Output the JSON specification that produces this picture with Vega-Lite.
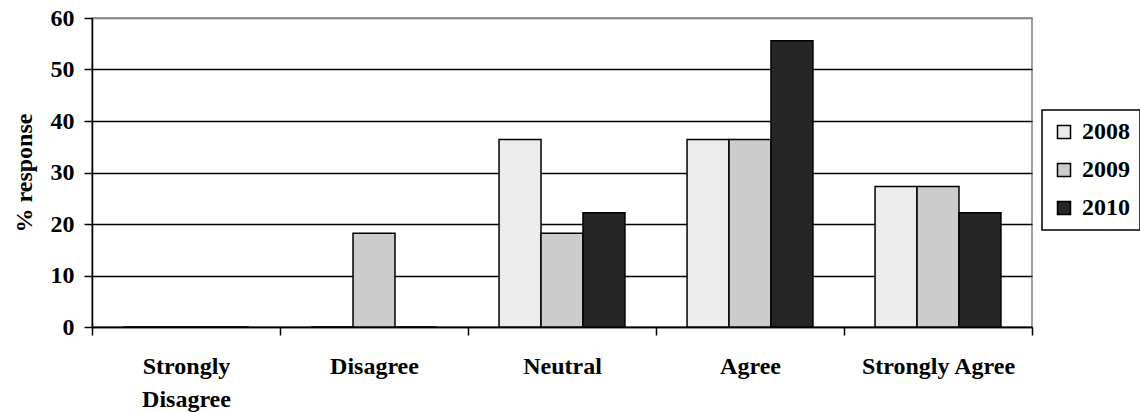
{
  "$schema": "https://vega.github.io/schema/vega-lite/v6.json",
  "width": 940,
  "height": 309,
  "autosize": {"type": "none"},
  "padding": {"left": 92, "top": 18, "right": 108, "bottom": 85},
  "background": "white",
  "config": {
    "font": "Liberation Serif",
    "view": {"stroke": "#808080", "strokeWidth": 1.5}
  },
  "data": {
    "values": [
      {"response": "Strongly Disagree", "year": "2008", "pct": 0},
      {"response": "Strongly Disagree", "year": "2009", "pct": 0},
      {"response": "Strongly Disagree", "year": "2010", "pct": 0},
      {"response": "Disagree", "year": "2008", "pct": 0},
      {"response": "Disagree", "year": "2009", "pct": 18.2},
      {"response": "Disagree", "year": "2010", "pct": 0},
      {"response": "Neutral", "year": "2008", "pct": 36.4},
      {"response": "Neutral", "year": "2009", "pct": 18.2},
      {"response": "Neutral", "year": "2010", "pct": 22.2},
      {"response": "Agree", "year": "2008", "pct": 36.4},
      {"response": "Agree", "year": "2009", "pct": 36.4},
      {"response": "Agree", "year": "2010", "pct": 55.6},
      {"response": "Strongly Agree", "year": "2008", "pct": 27.3},
      {"response": "Strongly Agree", "year": "2009", "pct": 27.3},
      {"response": "Strongly Agree", "year": "2010", "pct": 22.2}
    ]
  },
  "mark": {"type": "bar", "stroke": "black", "strokeWidth": 1.5},
  "encoding": {
    "x": {
      "field": "response",
      "type": "nominal",
      "sort": ["Strongly Disagree", "Disagree", "Neutral", "Agree", "Strongly Agree"],
      "scale": {"paddingInner": 0, "paddingOuter": 0},
      "axis": {
        "title": null,
        "labelAngle": 0,
        "tickBand": "extent",
        "labelFontSize": 24,
        "labelFontWeight": "bold",
        "labelColor": "black",
        "labelPadding": 19,
        "labelLineHeight": 33,
        "labelExpr": "datum.label == 'Strongly Disagree' ? ['Strongly', 'Disagree'] : datum.label",
        "domainColor": "black",
        "domainWidth": 1.5,
        "tickColor": "black",
        "tickWidth": 1.5,
        "tickSize": 8
      }
    },
    "xOffset": {
      "field": "year",
      "type": "nominal",
      "scale": {"paddingInner": 0, "paddingOuter": 0.74}
    },
    "y": {
      "field": "pct",
      "type": "quantitative",
      "scale": {"domain": [0, 60]},
      "axis": {
        "title": "% response",
        "titleFontSize": 24,
        "titleFontWeight": "bold",
        "titleColor": "black",
        "titleX": -68,
        "titleBaseline": "middle",
        "values": [0, 10, 20, 30, 40, 50, 60],
        "labelFontSize": 24,
        "labelFontWeight": "bold",
        "labelColor": "black",
        "labelPadding": 10,
        "domainColor": "black",
        "domainWidth": 1.5,
        "tickColor": "black",
        "tickWidth": 1.5,
        "tickSize": 8,
        "grid": true,
        "gridWidth": 1.5,
        "gridColor": {"condition": {"test": "datum.value == 60", "value": "#808080"}, "value": "black"}
      }
    },
    "fill": {
      "field": "year",
      "type": "nominal",
      "scale": {"domain": ["2008", "2009", "2010"], "range": ["#ececec", "#cccccc", "#262626"]},
      "legend": {
        "title": null,
        "orient": "none",
        "legendX": 950,
        "legendY": 92,
        "symbolType": "square",
        "symbolSize": 169,
        "symbolStrokeColor": "black",
        "symbolStrokeWidth": 1.5,
        "labelFontSize": 24,
        "labelFontWeight": "bold",
        "labelColor": "black",
        "labelOffset": 6,
        "padding": 10,
        "rowPadding": 14,
        "strokeColor": "black",
        "fillColor": "white",
        "encode": {"legend": {"update": {"strokeWidth": {"value": 1.5}}}}
      }
    }
  }
}
